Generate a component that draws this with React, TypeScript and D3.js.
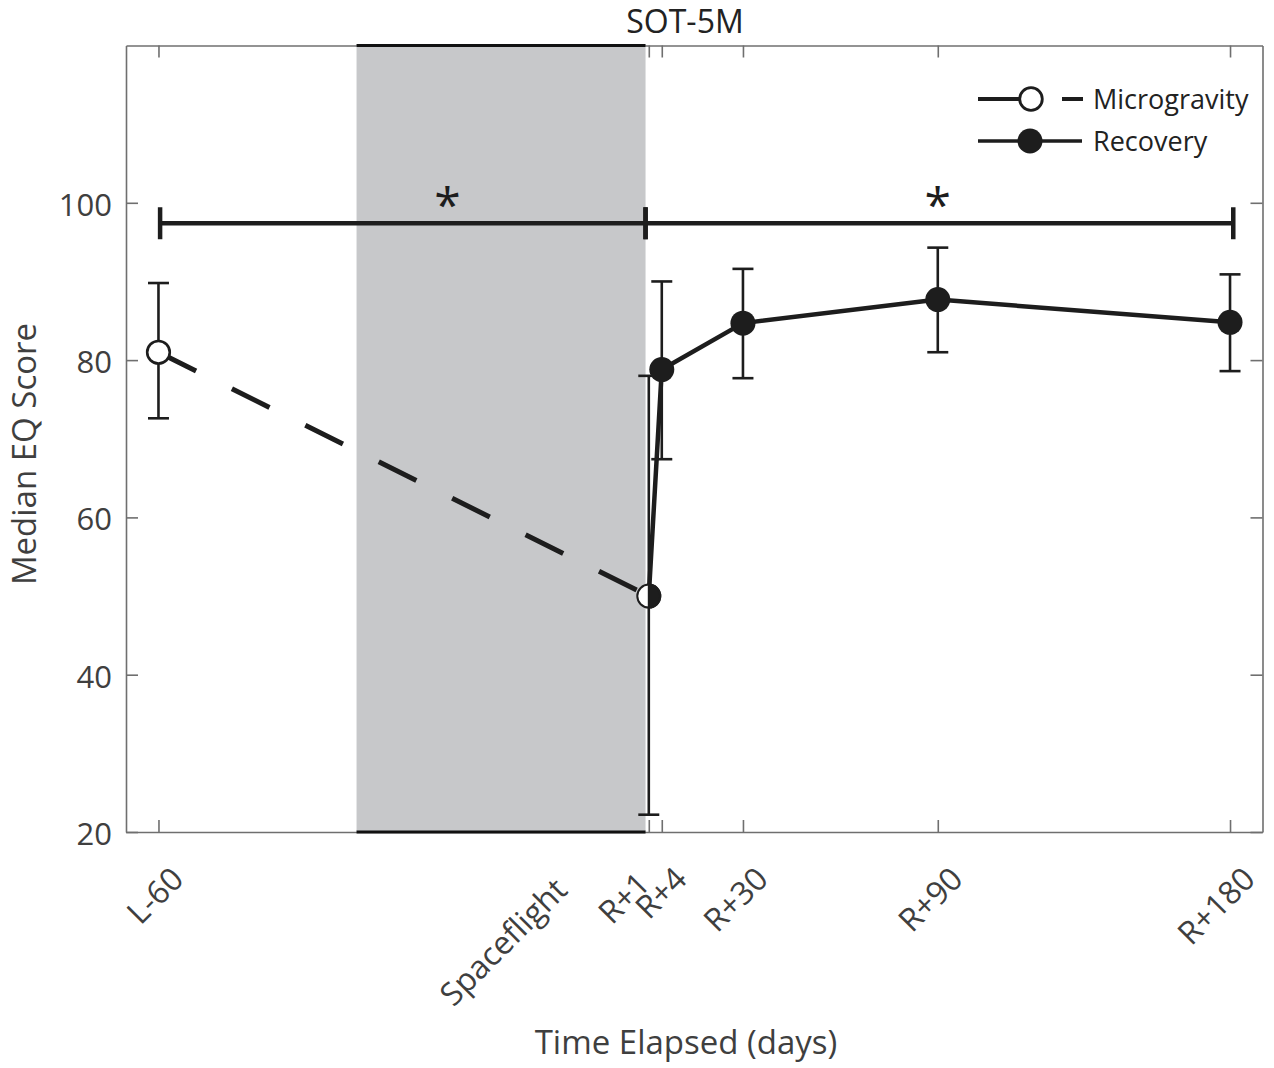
import * as d3 from "d3";
import { useEffect, useRef } from "react";

// x tick labels and where they sit (days relative to return, R+0)
const tickLabels = ["L-60", "Spaceflight", "R+1", "R+4", "R+30", "R+90", "R+180"];
const tickDays = [-150, -30, 1, 5, 30, 90, 180];

// microgravity series (pre-flight -> first day back)
const microDays = [-150, 1];
const microMedian = [81, 50];
const microLow = [72.6, 22.2];
const microHigh = [89.8, 78.0];

// recovery series
const recDays = [1, 5, 30, 90, 180];
const recMedian = [50, 78.8, 84.7, 87.7, 84.8];
const recLow = [NaN, 67.4, 77.7, 81.0, 78.6];
const recHigh = [NaN, 90.0, 91.6, 94.3, 90.9];

// shaded spaceflight window
const flightWindow = [-89, 0];

// significance brackets
const sigFrom = [-149.5, 0];
const sigTo = [0, 181];
const sigStar = [-61, 90];
const sigLevel = 97.4;

const yTicks = [20, 40, 60, 80, 100];

export default function App() {
  const ref = useRef<SVGSVGElement>(null);

  useEffect(() => {
    const svg = d3.select(ref.current);
    svg.selectAll("*").remove(); // reset

    const W = 1274;
    const H = 1068;
    const L = 126,
      R = 1262.5,
      T = 45.5,
      B = 832;
    const font = "'Open Sans', sans-serif";
    const ink = "#1d1d1d";
    const axisGray = "#6f6f6f";
    const textGray = "#3f3f3f";

    const x = d3.scaleLinear().domain([-160, 190]).range([L, R]);
    const y = d3.scaleLinear().domain([20, 120]).range([B, T]);

    svg.append("rect").attr("width", W).attr("height", H).attr("fill", "#fff");

    // axes, ticks pointing inward on all four sides
    const gLeft = svg
      .append("g")
      .attr("transform", `translate(${L},0)`)
      .call(d3.axisLeft(y).tickValues(yTicks).tickSize(-12).tickSizeOuter(0).tickPadding(14));
    const gRight = svg
      .append("g")
      .attr("transform", `translate(${R},0)`)
      .call(d3.axisRight(y).tickValues(yTicks).tickSize(-12).tickSizeOuter(0).tickFormat(() => ""));
    const gBottom = svg
      .append("g")
      .attr("transform", `translate(0,${B})`)
      .call(d3.axisBottom(x).tickValues(tickDays).tickSize(-12).tickSizeOuter(0).tickFormat(() => ""));
    const gTop = svg
      .append("g")
      .attr("transform", `translate(0,${T})`)
      .call(d3.axisTop(x).tickValues(tickDays).tickSize(-12).tickSizeOuter(0).tickFormat(() => ""));

    [gLeft, gRight, gBottom, gTop].forEach((g) => {
      g.selectAll("path, line").attr("stroke", axisGray).attr("stroke-width", 1.6);
    });
    gLeft
      .selectAll("text")
      .attr("font-family", font)
      .attr("font-size", 31)
      .attr("fill", textGray)
      .attr("dy", "0.4em");

    // rotated x tick labels
    const nudge: Record<string, [number, number]> = { "R+1": [-24, 5], Spaceflight: [-6, 11] };
    svg
      .append("g")
      .selectAll("text")
      .data(tickLabels)
      .join("text")
      .attr("transform", (d, i) => {
        const [nx, ny] = nudge[d] || [0, 0];
        return `translate(${x(tickDays[i]) + 27 + nx},${881 + ny}) rotate(-45)`;
      })
      .attr("text-anchor", "end")
      .attr("font-family", font)
      .attr("font-size", 32)
      .attr("fill", textGray)
      .text((d) => d);

    // spaceflight shading
    svg
      .append("rect")
      .attr("x", x(flightWindow[0]))
      .attr("y", T)
      .attr("width", x(flightWindow[1]) - x(flightWindow[0]))
      .attr("height", B - T)
      .attr("fill", "#c7c8ca");
    [T, B].forEach((yy) => {
      svg
        .append("line")
        .attr("x1", x(flightWindow[0]))
        .attr("x2", x(flightWindow[1]))
        .attr("y1", yy)
        .attr("y2", yy)
        .attr("stroke", "#111")
        .attr("stroke-width", 3);
    });

    const line = d3
      .line<[number, number]>()
      .x((d) => x(d[0]))
      .y((d) => y(d[1]));

    // microgravity dashed line
    svg
      .append("path")
      .attr("d", line(microDays.map((d, i) => [d, microMedian[i]])))
      .attr("fill", "none")
      .attr("stroke", ink)
      .attr("stroke-width", 5)
      .attr("stroke-dasharray", "42 40");

    // recovery solid line
    svg
      .append("path")
      .attr("d", line(recDays.map((d, i) => [d, recMedian[i]])))
      .attr("fill", "none")
      .attr("stroke", ink)
      .attr("stroke-width", 4.5)
      .attr("stroke-linejoin", "round");

    // error bars
    const errs: [number, number, number][] = [];
    microDays.forEach((d, i) => errs.push([d, microLow[i], microHigh[i]]));
    recDays.forEach((d, i) => {
      if (!isNaN(recLow[i])) errs.push([d, recLow[i], recHigh[i]]);
    });
    const gErr = svg.append("g").attr("stroke", ink).attr("stroke-width", 2.6);
    errs.forEach(([d, lo, hi]) => {
      const cx = x(d);
      gErr.append("line").attr("x1", cx).attr("x2", cx).attr("y1", y(lo)).attr("y2", y(hi));
      [lo, hi].forEach((v) => {
        gErr
          .append("line")
          .attr("x1", cx - 10.5)
          .attr("x2", cx + 10.5)
          .attr("y1", y(v))
          .attr("y2", y(v));
      });
    });

    // markers
    svg
      .append("circle")
      .attr("cx", x(microDays[0]))
      .attr("cy", y(microMedian[0]))
      .attr("r", 11.3)
      .attr("fill", "#fff")
      .attr("stroke", ink)
      .attr("stroke-width", 2.6);

    // shared R+1 point: half open, half filled
    const hx = x(microDays[1]);
    const hy = y(microMedian[1]);
    const r = 11.5;
    svg
      .append("circle")
      .attr("cx", hx)
      .attr("cy", hy)
      .attr("r", r)
      .attr("fill", "#fff")
      .attr("stroke", ink)
      .attr("stroke-width", 2);
    svg
      .append("path")
      .attr("d", `M${hx},${hy - r} A${r},${r} 0 0 1 ${hx},${hy + r} Z`)
      .attr("fill", ink)
      .attr("stroke", ink)
      .attr("stroke-width", 2);

    svg
      .append("g")
      .selectAll("circle")
      .data(recDays.slice(1))
      .join("circle")
      .attr("cx", (d) => x(d))
      .attr("cy", (d, i) => y(recMedian[i + 1]))
      .attr("r", 12.5)
      .attr("fill", ink);

    // significance brackets
    const gSig = svg.append("g").attr("stroke", ink).attr("stroke-width", 4.5);
    sigFrom.forEach((f, i) => {
      const yy = y(sigLevel);
      gSig.append("line").attr("x1", x(f)).attr("x2", x(sigTo[i])).attr("y1", yy).attr("y2", yy);
      [f, sigTo[i]].forEach((v) => {
        gSig
          .append("line")
          .attr("x1", x(v))
          .attr("x2", x(v))
          .attr("y1", yy - 16)
          .attr("y2", yy + 16);
      });
      svg
        .append("text")
        .attr("x", x(sigStar[i]))
        .attr("y", yy - 1)
        .attr("text-anchor", "middle")
        .attr("font-family", font)
        .attr("font-size", 48)
        .attr("fill", ink)
        .text("*");
    });

    // legend
    const lg = svg.append("g");
    const legendText = (ty: number, label: string) =>
      lg
        .append("text")
        .attr("x", 1093)
        .attr("y", ty)
        .attr("dy", "0.36em")
        .attr("font-family", font)
        .attr("font-size", 27)
        .attr("fill", "#222")
        .text(label);
    lg.append("line").attr("x1", 978).attr("x2", 1020).attr("y1", 99).attr("y2", 99)
      .attr("stroke", ink).attr("stroke-width", 4);
    lg.append("line").attr("x1", 1062).attr("x2", 1083).attr("y1", 99).attr("y2", 99)
      .attr("stroke", ink).attr("stroke-width", 4);
    lg.append("circle").attr("cx", 1031).attr("cy", 99).attr("r", 11.3)
      .attr("fill", "#fff").attr("stroke", ink).attr("stroke-width", 2.8);
    legendText(99, "Microgravity");
    lg.append("line").attr("x1", 978).attr("x2", 1082).attr("y1", 141).attr("y2", 141)
      .attr("stroke", ink).attr("stroke-width", 3.5);
    lg.append("circle").attr("cx", 1030).attr("cy", 141).attr("r", 12.5).attr("fill", ink);
    legendText(141, "Recovery");

    // titles
    svg
      .append("text")
      .attr("x", 685)
      .attr("y", 33)
      .attr("text-anchor", "middle")
      .attr("font-family", font)
      .attr("font-size", 32)
      .attr("fill", "#222")
      .text("SOT-5M");
    svg
      .append("text")
      .attr("x", 686)
      .attr("y", 1054)
      .attr("text-anchor", "middle")
      .attr("font-family", font)
      .attr("font-size", 33)
      .attr("fill", textGray)
      .text("Time Elapsed (days)");
    svg
      .append("text")
      .attr("transform", `translate(36,454) rotate(-90)`)
      .attr("text-anchor", "middle")
      .attr("font-family", font)
      .attr("font-size", 33)
      .attr("fill", textGray)
      .text("Median EQ Score");
  }, []);

  return (
    <svg
      ref={ref}
      width={1274}
      height={1068}
      style={{ position: "absolute", left: 0, top: 0, display: "block" }}
    />
  );
}
